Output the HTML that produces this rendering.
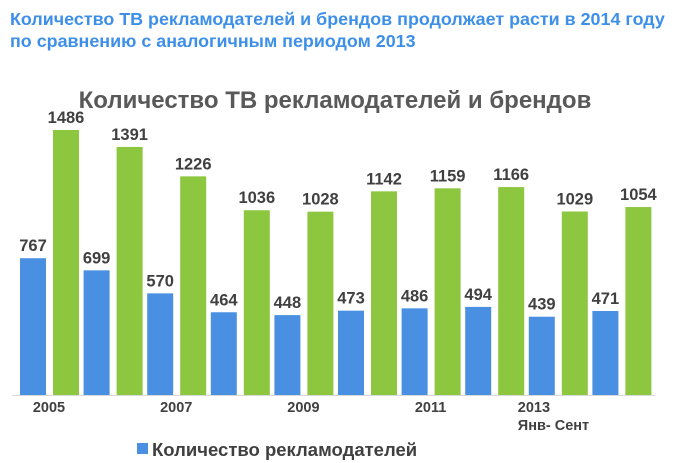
<!DOCTYPE html>
<html><head><meta charset="utf-8"><style>
body{margin:0;background:#fff;width:700px;height:463px;overflow:hidden;font-family:"Liberation Sans","DejaVu Sans",sans-serif}
.h{position:absolute;left:10px;top:8px;color:#3d8fe8;font-weight:bold;font-size:17.9px;line-height:22px;white-space:nowrap}
</style></head><body>
<div class="h">Количество ТВ рекламодателей и брендов продолжает расти в 2014 году<br>по сравнению с аналогичным периодом 2013</div>
<svg id="c" width="700" height="463" style="position:absolute;left:0;top:0"></svg>
<script>
const categories=["2005","2006","2007","2008","2009","2010","2011","2012","2013","Янв- Сент"];
const advertisers=[767,699,570,464,448,473,486,494,439,471];
const brands=[1486,1391,1226,1036,1028,1142,1159,1166,1029,1054];
const tickLabels=["2005","","2007","","2009","","2011","","2013","Янв- Сент"];
const NS="http://www.w3.org/2000/svg";
const svg=document.getElementById('c');
const base=395, k=265/1486;
const xs=i=>20+i*63.6;
const ys=v=>base-v*k;
function el(t,a,txt){const e=document.createElementNS(NS,t);for(const n in a)e.setAttribute(n,a[n]);if(txt!=null)e.textContent=txt;svg.appendChild(e);return e;}
let t=el('text',{x:335,y:108,'text-anchor':'middle','font-size':24,'font-weight':'bold',fill:'#595959'},'Количество ТВ рекламодателей и брендов');


let ax=el('line',{x1:12,x2:655,y1:base+0.5,y2:base+0.5,stroke:'#d9d9d9'});


categories.forEach((c,i)=>{
  const x=xs(i);
  let b=el('rect',{x:x,y:ys(advertisers[i]),width:26,height:advertisers[i]*k,fill:'#4a90e2'});
  
  
  let g=el('rect',{x:x+33,y:ys(brands[i]),width:26,height:brands[i]*k,fill:'#8dc63f'});
  
  
  let l1=el('text',{x:x+13,y:ys(advertisers[i])-7,'text-anchor':'middle','font-size':16.5,'font-weight':'bold',fill:'#404040'},advertisers[i]);
  
  
  let l2=el('text',{x:x+46,y:ys(brands[i])-7,'text-anchor':'middle','font-size':16.5,'font-weight':'bold',fill:'#404040'},brands[i]);
  
  
  if(tickLabels[i]){
    if(tickLabels[i]==="Янв- Сент"){
      let tl=el('text',{x:xs(8)-11,y:430,'font-size':14.5,'font-weight':'bold',fill:'#404040'},'Янв- Сент');
      
      
    } else if(i===8){
      let tl=el('text',{x:x-11,y:412,'font-size':14.5,'font-weight':'bold',fill:'#404040'},tickLabels[i]);
      
      
    } else {
      let tl=el('text',{x:x+29,y:412,'text-anchor':'middle','font-size':14.5,'font-weight':'bold',fill:'#404040'},tickLabels[i]);
      
      
    }
  }
});
let lm=el('rect',{x:137,y:443,width:11,height:11,fill:'#4a90e2'});


let lt=el('text',{x:152,y:456,'font-size':18.5,'font-weight':'bold',fill:'#404040'},'Количество рекламодателей');


</script>
</body></html>
